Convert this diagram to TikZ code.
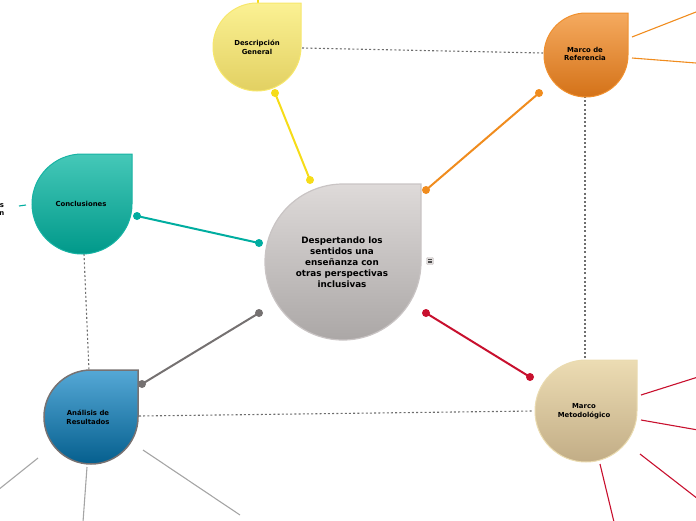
\documentclass[tikz,border=0pt]{standalone}
\usepackage{fontspec}
\setmainfont{DejaVu Sans}
\definecolor{grayTop}{HTML}{DEDAD9}
\definecolor{grayBot}{HTML}{ABA7A6}
\definecolor{grayEdge}{HTML}{C9C4C4}
\definecolor{yelTop}{HTML}{FBF193}
\definecolor{yelBot}{HTML}{E2D062}
\definecolor{yelEdge}{HTML}{F7E76C}
\definecolor{yelLine}{HTML}{F6DC18}
\definecolor{oraTop}{HTML}{F5AA5F}
\definecolor{oraBot}{HTML}{D47218}
\definecolor{oraEdge}{HTML}{F0902E}
\definecolor{oraLine}{HTML}{F08C1E}
\definecolor{tealTop}{HTML}{45C8B8}
\definecolor{tealBot}{HTML}{00998A}
\definecolor{tealEdge}{HTML}{16B3A3}
\definecolor{tealLine}{HTML}{00ADA0}
\definecolor{bluTop}{HTML}{55A8D6}
\definecolor{bluBot}{HTML}{055F8E}
\definecolor{bluEdge}{HTML}{777272}
\definecolor{greyLine}{HTML}{757171}
\definecolor{tanTop}{HTML}{ECDCB3}
\definecolor{tanBot}{HTML}{C2AD86}
\definecolor{tanEdge}{HTML}{EADBB0}
\definecolor{redLine}{HTML}{C8102E}
\definecolor{twig}{HTML}{A5A5A5}
\definecolor{dashGray}{HTML}{6E6E6E}
\usepackage{tikz}

%% teardrop: centre x, centre y, radius, style
\newcommand{\drop}[4]{%
  \shade[#4] (#1,{#2-#3}) -- ({#1+#3},{#2-#3}) -- ({#1+#3},#2)
    arc[start angle=0,end angle=270,radius=#3] -- cycle;}

\begin{document}
\begin{tikzpicture}[x=1pt,y=-1pt,
    label/.style={font=\bfseries\fontsize{6.9}{8.8}\selectfont, align=center, text=black},
    biglabel/.style={font=\bfseries\fontsize{8.8}{11}\selectfont, align=center, text=black},
    link/.style={line width=2pt, line cap=round},
    twigline/.style={line width=1.1pt},
    relation/.style={dashGray, line width=1.1pt, dash pattern=on 2pt off 2.2pt}]
  \useasboundingbox (0,0) rectangle (696,520);
  %% relations (dashed)
  \draw[relation] (302,48) -- (543,53);
  \draw[relation] (585,96) -- (585,362);
  \draw[relation] (84,254) -- (89,371);
  \draw[relation] (139,416) -- (533,411);
  %% sub-branches
  \draw[yelLine, twigline] (258,-2) -- (258,4);
  \draw[oraLine, twigline] (632,37) -- (696,12);
  \draw[oraLine, twigline] (632,58) -- (696,63);
  \draw[tealLine, twigline] (19,206) -- (26,205);
  \draw[twig, twigline] (38,458) -- (-2,490);
  \draw[twig, twigline] (87,467) -- (83,522);
  \draw[twig, twigline] (143,450) -- (240,515);
  \draw[redLine, twigline] (641,395) -- (698,377);
  \draw[redLine, twigline] (641,420) -- (698,430);
  \draw[redLine, twigline] (640,454) -- (698,499);
  \draw[redLine, twigline] (600,464) -- (614,522);
  %% shapes
  \drop{343}{262}{78}{top color=grayTop, bottom color=grayBot, draw=grayEdge, line width=1.2pt}
  \drop{257}{47}{44}{top color=yelTop, bottom color=yelBot, draw=yelEdge, line width=1pt}
  \drop{586}{55}{42}{top color=oraTop, bottom color=oraBot, draw=oraEdge, line width=1pt}
  \drop{82}{204}{50}{top color=tealTop, bottom color=tealBot, draw=tealEdge, line width=1pt}
  \drop{91}{417}{47}{top color=bluTop, bottom color=bluBot, draw=bluEdge, line width=1.5pt}
  \drop{586}{411}{51}{top color=tanTop, bottom color=tanBot, draw=tanEdge, line width=1pt}
  %% texts
  \node[biglabel] (central) at (342,262) {Despertando los\\sentidos una\\enseñanza con\\otras perspectivas\\inclusivas};
  \node[label] (desc) at (257,47) {Descripción\\General};
  \node[label] (marcoRef) at (585,54) {Marco de\\Referencia};
  \node[label] (concl) at (81,204) {Conclusiones};
  \node[label] (analisis) at (88,417) {Análisis de\\Resultados};
  \node[label] (marcoMet) at (584,411) {Marco\\Metodológico};
  \node[label, anchor=east, inner sep=0pt] (cut) at (4.5,209.5) {s\\n};
  %% note icon
  \node[draw=grayEdge, fill=grayTop, rounded corners=1pt, minimum size=7pt, inner sep=0pt] (note) at (430,261) {};
  \foreach \k in {-1.6,0,1.6}
    \draw[black!70, line width=0.6pt] ([xshift=-2pt,yshift=\k pt]note.center) -- ([xshift=2pt,yshift=\k pt]note.center);
  %% connectors to the centre
  \coordinate (dDesc) at (275,93);   \coordinate (cDesc) at (310,180);
  \coordinate (dRef) at (539,93);    \coordinate (cRef) at (426,190);
  \coordinate (dConcl) at (137,216); \coordinate (cConcl) at (259,243);
  \coordinate (dAna) at (142,384);   \coordinate (cAna) at (259,313);
  \coordinate (dMet) at (530,377);   \coordinate (cMet) at (426,313);
  \draw[link, yelLine] (dDesc) -- (cDesc);
  \draw[link, oraLine] (dRef) -- (cRef);
  \draw[link, tealLine] (dConcl) -- (cConcl);
  \draw[link, greyLine] (dAna) -- (cAna);
  \draw[link, redLine] (dMet) -- (cMet);
  \foreach \p/\c in {dDesc/yelLine,cDesc/yelLine,dRef/oraLine,cRef/oraLine,dConcl/tealLine,cConcl/tealLine,dAna/greyLine,cAna/greyLine,dMet/redLine,cMet/redLine}
    \fill[\c] (\p) circle[radius=4pt];
\end{tikzpicture}
\end{document}
